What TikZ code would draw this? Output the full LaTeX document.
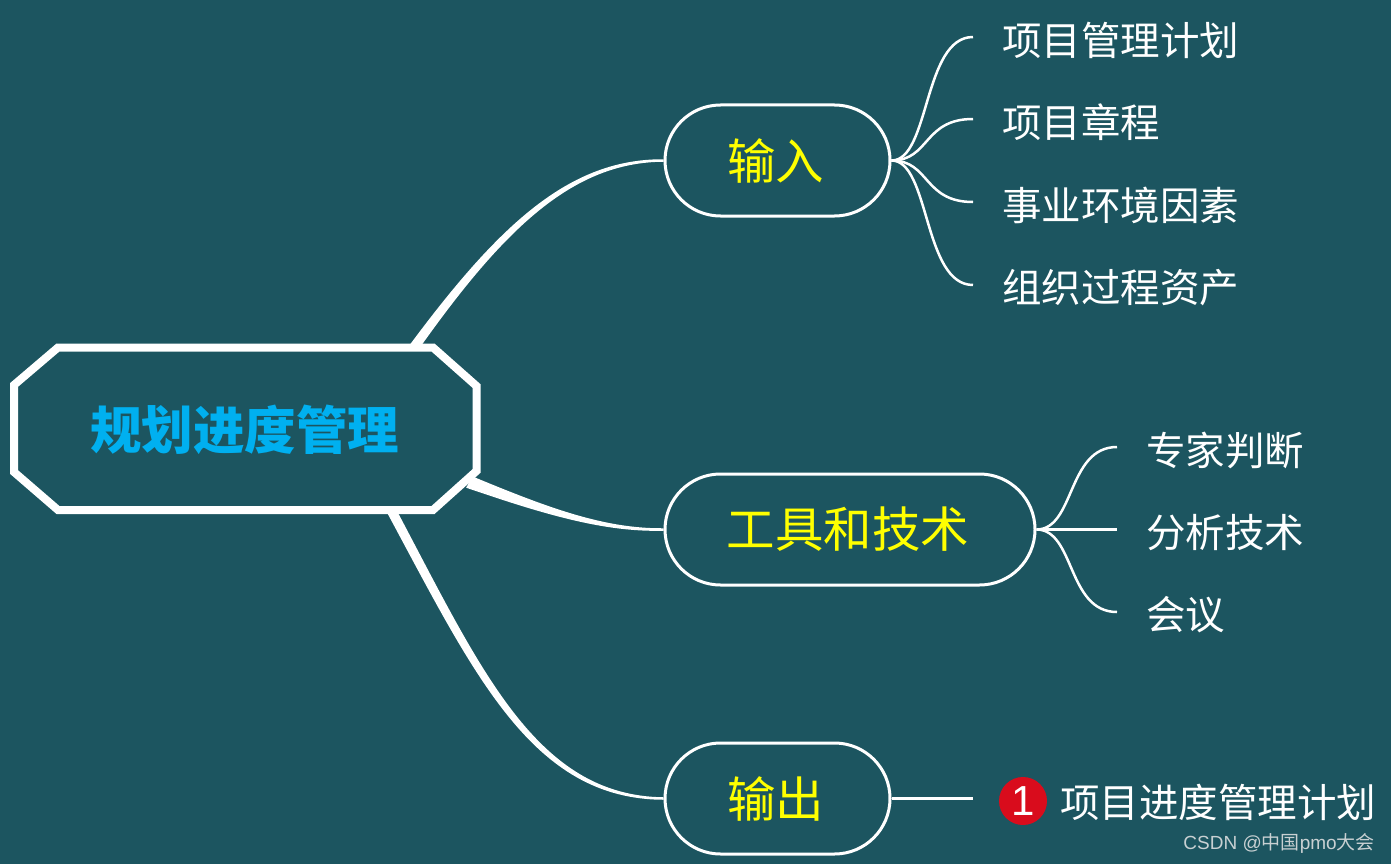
\documentclass[tikz,border=0pt]{standalone}
\usepackage{fontspec}
\setmainfont{Liberation Sans}
\newfontfamily\cjk{Noto Sans CJK SC}
\usetikzlibrary{calc}
\usetikzlibrary{shapes.misc}
\definecolor{bgteal}{RGB}{28,85,96}
\definecolor{rootblue}{RGB}{0,176,240}
\definecolor{labelyellow}{RGB}{255,255,0}
\definecolor{badgered}{RGB}{217,12,28}
\definecolor{markgrey}{RGB}{200,208,210}
\tikzset{
  roottext/.style={inner sep=0pt,text=rootblue,font=\cjk\bfseries\fontsize{51.5}{52}\selectfont},
  branchbox/.style={rounded rectangle,draw=white,line width=3pt,minimum height=111pt,inner sep=0pt,
    text=labelyellow,font=\cjk\fontsize{48.5}{48}\selectfont},
  leaftext/.style={anchor=west,inner sep=0pt,text=white,font=\cjk\fontsize{39.5}{40}\selectfont},
  taperline/.style={draw=white,fill=white,line width=2.5pt},
  thinline/.style={draw=white,line width=2.5pt}
}
\begin{document}
\begin{tikzpicture}[x=1pt,y=-1pt]
    \useasboundingbox[fill=bgteal] (0,0) rectangle (1391,864);
    \node[branchbox,minimum width=225pt] (input) at (777.5,160.5) {\raisebox{-2pt}{输入}\kern4pt};
    \node[branchbox,minimum width=370pt] (tools) at (850,529.5) {\raisebox{-2pt}{工具和技术}\kern4pt};
    \node[branchbox,minimum width=225pt] (output) at (777.5,798.5) {\raisebox{-1pt}{输出}\kern4pt};
    % thick branches
    \coordinate (inA) at (409,348);
    \coordinate (inB) at (418,348);
    \coordinate (toA) at (473,478);
    \coordinate (toB) at (468,487);
    \coordinate (ouA) at (394,508);
    \coordinate (ouB) at (386,508);
    \draw[taperline] (inA) .. controls (500,225) and (570,160) .. (input.west) .. controls (572,161) and (503,228) .. (inB) -- cycle;
    \draw[taperline] (toA) .. controls (550,510) and (605,530) .. (tools.west) .. controls (605,531) and (547,514) .. (toB) -- cycle;
    \draw[taperline] (ouA) .. controls (480,670) and (535,797) .. (output.west) .. controls (532,798) and (475,673) .. (ouB) -- cycle;
    % root
    \draw[white,line width=8pt,fill=bgteal] (58,347.5)--(433,347.5)--(476.5,386)--(476.5,471)--(433,510)--(58,510)--(14,472)--(14,385)--cycle;
    \node[roottext] (root) at (244.5,430) {规划进度管理};
    % leaves of input
    \node[leaftext] (in1) at (1002,40) {项目管理计划};
    \node[leaftext] (in2) at (1002,122) {项目章程};
    \node[leaftext] (in3) at (1002,205) {事业环境因素};
    \node[leaftext] (in4) at (1002,288) {组织过程资产};
    \foreach \n in {1,...,4} {
      \coordinate (inend\n) at ($(in\n.west)+(-29,-3)$);
      \draw[thinline] (input.east) .. controls (930,160.5) and ($(inend\n)+(-50,0)$) .. (inend\n);
    }
    % leaves of tools
    \node[leaftext] (to1) at (1146,450) {专家判断};
    \node[leaftext] (to2) at (1146,532.5) {分析技术};
    \node[leaftext] (to3) at (1146,615) {会议};
    \foreach \n in {1,...,3} {
      \coordinate (toend\n) at ($(to\n.west)+(-29,-3)$);
      \draw[thinline] (tools.east) .. controls (1075,529.5) and ($(toend\n)+(-50,0)$) .. (toend\n);
    }
    % output
    \node[circle,fill=badgered,minimum size=48pt,inner sep=0pt,text=white,font=\fontsize{42}{42}\selectfont] (badge) at (1023,801) {1};
    \node[leaftext] (ou1) at (1060,802) {项目进度管理计划};
    \coordinate (ouend) at (973,798.5);
    \draw[thinline] (output.east) -- (ouend);
    \node[anchor=east,inner sep=0pt,text=markgrey,font=\fontsize{19}{20}\selectfont] (mark) at (1375,843) {CSDN @{\cjk 中国}pmo{\cjk 大会}};
\end{tikzpicture}
\end{document}
